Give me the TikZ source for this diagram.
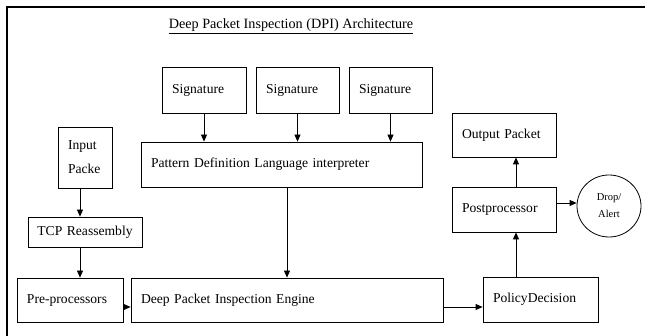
\documentclass[tikz,border=0pt]{standalone}
\usepackage{fontspec}
\setmainfont{Liberation Serif}
\usetikzlibrary{arrows.meta, shapes.geometric, positioning}

\tikzset{
    blk/.style={draw, line width=0.8pt, inner xsep=10pt, inner ysep=0pt, align=left, font=\fontsize{13.6}{15}\selectfont},
    arr/.style={-{Stealth[length=7pt, width=6pt, inset=0pt]}, line width=0.8pt}
}

\begin{document}
\begin{tikzpicture}[x=1pt, y=-1pt]
            \useasboundingbox (0, 0) rectangle (645, 336);
            \draw[line width=1.3pt] (7, 336) -- (7, 7) -- (645, 7);
            \node[font=\fontsize{14.2}{16}\selectfont] (title) at (291, 26) {\underline{Deep Packet Inspection (DPI) Architecture}};
            \node[blk, text width=64, minimum height=46] (sig1) at (204, 90) {Signature};
            \node[blk, text width=63, minimum height=46] (sig2) at (297.5, 90) {Signature};
            \node[blk, text width=63, minimum height=46] (sig3) at (390.5, 90) {Signature};
            \node[blk, text width=261, minimum height=45] (pattern) at (281.5, 164.5) {Pattern Definition Language interpreter};
            \node[blk, text width=34, minimum height=61] (input) at (85, 157.5) {Input\\[9pt]Packe};
            \node[blk, inner xsep=4pt, text width=106, align=center, minimum height=30] (tcp) at (85, 232) {TCP Reassembly};
            \node[blk, text width=86, minimum height=44] (pre) at (70, 300) {Pre-processors};
            \node[blk, text width=292, minimum height=44] (engine) at (287, 300) {Deep Packet Inspection Engine};
            \node[blk, text width=95, minimum height=45] (policy) at (540.5, 299.5) {PolicyDecision};
            \node[blk, text width=84, minimum height=45] (post) at (504, 209.5) {Postprocessor};
            \node[blk, text width=84, minimum height=44] (output) at (504, 135) {Output Packet};
            \node[draw, ellipse, line width=0.8pt, inner sep=0pt, minimum width=64, minimum height=62, align=center, font=\fontsize{10.5}{17}\selectfont] (drop) at (609, 206) {Drop/\\Alert};
            \draw[arr] (sig1) -- (sig1 |- pattern.north);
            \draw[arr] (sig2) -- (sig2 |- pattern.north);
            \draw[arr] (sig3) -- (sig3 |- pattern.north);
            \draw[arr] (pattern.south -| engine.north) -- (engine.north);
            \draw[arr] ([xshift=-5pt]input.south) -- ([xshift=-5pt]input.south |- tcp.north);
            \draw[arr] ([xshift=-5pt]tcp.south) -- ([xshift=-5pt]tcp.south |- pre.north);
            \draw[arr] ([yshift=-7pt]pre.east) -- ([yshift=-7pt]pre.east -| engine.west);
            \draw[arr] ([yshift=-7pt]engine.east) -- ([yshift=-7pt]engine.east -| policy.west);
            \draw[arr] ([xshift=12pt]post.south |- policy.north) -- ([xshift=12pt]post.south);
            \draw[arr] ([xshift=12pt]post.north) -- ([xshift=12pt]output.south);
            \draw[arr] ([yshift=6.5pt]post.east) -- ([yshift=6.5pt]post.east -| drop.west);
        \end{tikzpicture}
\end{document}
